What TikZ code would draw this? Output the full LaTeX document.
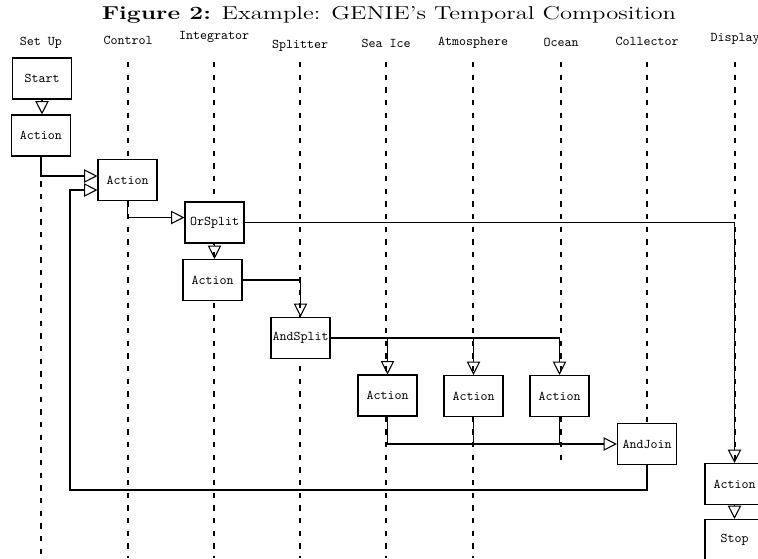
\documentclass[tikz,border=0pt]{standalone}
\usepackage{fontspec}
\usepackage{graphicx}
\usetikzlibrary{arrows.meta,calc}
\newcommand\lanefont{\ttfamily\fontsize{10}{12}\selectfont}
\tikzset{
  act/.style={draw, fill=white, line width=0.8pt, minimum width=44.25pt, minimum height=30.75pt, inner sep=0pt, font=\lanefont},
  flow/.style={line width=0.8pt, -{Triangle[open, length=10pt, width=10pt]}},
  link/.style={line width=0.8pt},
  life/.style={line width=0.8pt, dash pattern=on 4pt off 5.5pt},
}
\begin{document}
\begin{tikzpicture}[x=0.75pt,y=0.75pt,yscale=-1,xscale=1]
\useasboundingbox (0,0) rectangle (758,558);

% Title
\node (title) [anchor=base] at (389,19) {\fontsize{14}{16}\selectfont\scalebox{1.32}[1]{\textbf{Figure 2:} Example: GENIE's Temporal Composition}};

% Lanes and lifelines
\foreach \name/\x/\ly/\ys/\ye [count=\i] in {Set Up/41/43/156/558, Control/128/40/62/558, Integrator/214/37/62/558, Splitter/300/46/62/558, Sea Ice/386/43/62/558, Atmosphere/473/43/62/558, Ocean/561/42/62/466, Collector/647/41/62/423, Display/735/39/62/463}{
  \node (lane\i) [font=\lanefont] at (\x,\ly) {\name};
  \draw [life] (\x,\ys) -- (\x,\ye);
}

%Shape: Rectangle
\node (start) [act] at (42,78.5) {Start};
\node (act1) [act] at (41,135.5) {Action};
\node (act2) [act] at (127.5,180) {Action};
\node (orsplit) [act] at (214.5,222.5) {OrSplit};
\node (act3) [act] at (212.5,280) {Action};
\node (andsplit) [act] at (300.5,338) {AndSplit};
\node (seaice) [act] at (387.5,395.5) {Action};
\node (atmos) [act] at (473.5,396) {Action};
\node (ocean) [act] at (559.5,396) {Action};
\node (andjoin) [act] at (647,444) {AndJoin};
\node (dispact) [act] at (734.5,484) {Action};
\node (stop) [act] at (734.5,540) {Stop};
\coordinate (back) at (70,490);

%Straight Lines
\draw [flow] (start.south) -- (start.south |- act1.north);
\draw [flow] (act1.south) |- ($(act2.west)+(0,-4)$);
\draw [flow] (andjoin.south) |- (back) |- ($(act2.west)+(0,10)$);
\draw [flow] (act2.south) |- ($(orsplit.west)+(0,-5)$);
\draw [flow] (orsplit.east) -| (dispact.north);
\draw [flow] (orsplit.south) -- (orsplit.south |- act3.north);
\draw [flow] (act3.east) -| (andsplit.north);
\draw [flow] (andsplit.east) -| (seaice.north);
\draw [flow] (andsplit.east) -| (atmos.north);
\draw [flow] (andsplit.east) -| (ocean.north);
\draw [flow] (seaice.south) |- (andjoin.west);
\draw [link] (atmos.south) -- (atmos.south |- andjoin.west);
\draw [link] (ocean.south) -- (ocean.south |- andjoin.west);
\draw [flow] (dispact.south) -- (stop.north);
\end{tikzpicture}
\end{document}
